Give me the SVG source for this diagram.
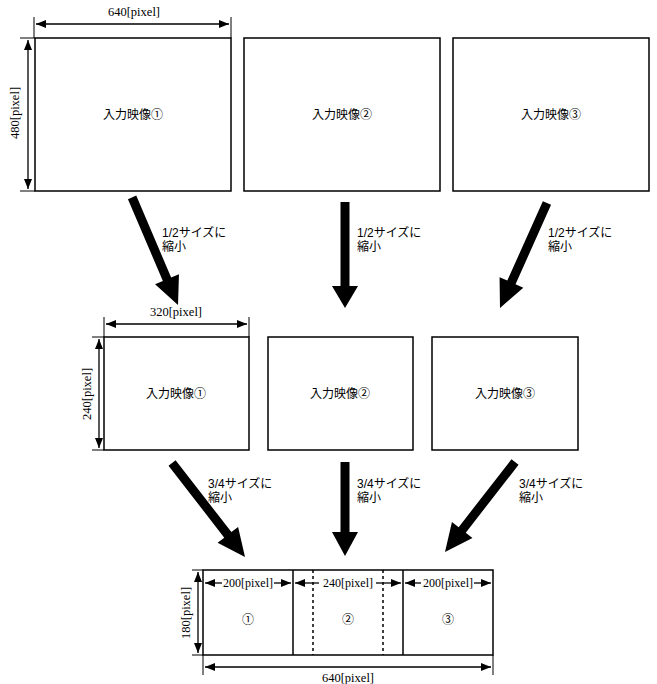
<svg xmlns="http://www.w3.org/2000/svg" width="657" height="684" viewBox="0 0 657 684">
<defs>
<style>
.box{fill:#fff;stroke:#000;stroke-width:1.5}
.dim{stroke:#000;stroke-width:1.3;fill:none}
.ext{stroke:#000;stroke-width:1;fill:none}
.dt{font-family:"Liberation Serif",serif;font-size:12.5px;fill:#000}
.dts{font-family:"Liberation Serif",serif;font-size:12px;fill:#000}
.jt{font-family:"Liberation Sans","Noto Sans CJK JP",sans-serif;font-size:12px;fill:#000}
.big{fill:#000}
</style>
<marker id="ah" viewBox="0 0 10 8" refX="10" refY="4" markerWidth="11" markerHeight="8" markerUnits="userSpaceOnUse" orient="auto-start-reverse">
<path d="M0,0 L10,4 L0,8 Z" fill="#000"/>
</marker>
</defs>
<rect width="657" height="684" fill="#fff"/>

<g id="top1"><rect class="box" x="35" y="38" width="196" height="153"/><text class="jt" x="133" y="119" text-anchor="middle">入力映像①</text></g>
<g id="top2"><rect class="box" x="244" y="38" width="196" height="153"/><text class="jt" x="342" y="119" text-anchor="middle">入力映像②</text></g>
<g id="top3"><rect class="box" x="453" y="38" width="196" height="153"/><text class="jt" x="551" y="119" text-anchor="middle">入力映像③</text></g>

<g id="mid1"><rect class="box" x="104" y="337" width="145" height="113"/><text class="jt" x="176" y="398" text-anchor="middle">入力映像①</text></g>
<g id="mid2"><rect class="box" x="268" y="337" width="145" height="113"/><text class="jt" x="340" y="398" text-anchor="middle">入力映像②</text></g>
<g id="mid3"><rect class="box" x="432" y="337" width="146" height="113"/><text class="jt" x="505" y="398" text-anchor="middle">入力映像③</text></g>

<g id="out">
<rect class="box" x="203" y="570" width="290" height="85"/>
<line class="ext" x1="293" y1="570" x2="293" y2="655" style="stroke-width:1.5"/>
<line class="ext" x1="403" y1="570" x2="403" y2="655" style="stroke-width:1.5"/>
<line class="ext" x1="313" y1="570" x2="313" y2="655" stroke-dasharray="3,3" style="stroke-width:1.5"/>
<line class="ext" x1="383" y1="570" x2="383" y2="655" stroke-dasharray="3,3" style="stroke-width:1.5"/>
<text class="jt" x="248" y="624" text-anchor="middle">①</text>
<text class="jt" x="348" y="624" text-anchor="middle">②</text>
<text class="jt" x="448" y="624" text-anchor="middle">③</text>
</g>

<g id="dimensions">
<line class="ext" x1="34" y1="17" x2="34" y2="38"/>
<line class="ext" x1="231" y1="17" x2="231" y2="38"/>
<line class="dim" x1="36" y1="24" x2="229" y2="24" marker-start="url(#ah)" marker-end="url(#ah)"/>
<text class="dt" x="134" y="16" text-anchor="middle">640[pixel]</text>
<line class="ext" x1="20" y1="38" x2="35" y2="38"/>
<line class="ext" x1="20" y1="191" x2="35" y2="191"/>
<line class="dim" x1="28" y1="40" x2="28" y2="189" marker-start="url(#ah)" marker-end="url(#ah)"/>
<text class="dt" transform="translate(19,113) rotate(-90)" text-anchor="middle">480[pixel]</text>

<line class="ext" x1="104" y1="317" x2="104" y2="337"/>
<line class="ext" x1="249" y1="317" x2="249" y2="337"/>
<line class="dim" x1="106" y1="324" x2="247" y2="324" marker-start="url(#ah)" marker-end="url(#ah)"/>
<text class="dt" x="176" y="316" text-anchor="middle">320[pixel]</text>
<line class="ext" x1="92" y1="337" x2="104" y2="337"/>
<line class="ext" x1="92" y1="450" x2="104" y2="450"/>
<line class="dim" x1="99" y1="339" x2="99" y2="448" marker-start="url(#ah)" marker-end="url(#ah)"/>
<text class="dt" transform="translate(91,394) rotate(-90)" text-anchor="middle">240[pixel]</text>

<line class="dim" x1="205" y1="583" x2="222" y2="583" marker-start="url(#ah)"/>
<line class="dim" x1="274" y1="583" x2="291" y2="583" marker-end="url(#ah)"/>
<text class="dts" x="248" y="587" text-anchor="middle">200[pixel]</text>
<line class="dim" x1="295" y1="583" x2="319" y2="583" marker-start="url(#ah)"/>
<line class="dim" x1="376" y1="583" x2="401" y2="583" marker-end="url(#ah)"/>
<text class="dts" x="348" y="587" text-anchor="middle">240[pixel]</text>
<line class="dim" x1="405" y1="583" x2="421" y2="583" marker-start="url(#ah)"/>
<line class="dim" x1="474" y1="583" x2="491" y2="583" marker-end="url(#ah)"/>
<text class="dts" x="448" y="587" text-anchor="middle">200[pixel]</text>

<line class="ext" x1="192" y1="570" x2="203" y2="570"/>
<line class="ext" x1="192" y1="655" x2="203" y2="655"/>
<line class="dim" x1="198" y1="572" x2="198" y2="653" marker-start="url(#ah)" marker-end="url(#ah)"/>
<text class="dt" transform="translate(190,613) rotate(-90)" text-anchor="middle">180[pixel]</text>

<line class="ext" x1="203" y1="655" x2="203" y2="675"/>
<line class="ext" x1="493" y1="655" x2="493" y2="675"/>
<line class="dim" x1="205" y1="667" x2="491" y2="667" marker-start="url(#ah)" marker-end="url(#ah)"/>
<text class="dt" x="348" y="682" text-anchor="middle">640[pixel]</text>
</g>

<g id="connectors">
<g transform="translate(178,305) rotate(66.9)"><path class="big" d="M0,0 L-28,-13 L-28,-4.5 L-117,-4.5 L-117,4.5 L-28,4.5 L-28,13 Z"/></g>
<g transform="translate(345,308) rotate(90)"><path class="big" d="M0,0 L-22,-13 L-22,-4.5 L-106,-4.5 L-106,4.5 L-22,4.5 L-22,13 Z"/></g>
<g transform="translate(500,308) rotate(114.1)"><path class="big" d="M0,0 L-28,-13 L-28,-4.5 L-115,-4.5 L-115,4.5 L-28,4.5 L-28,13 Z"/></g>
<g transform="translate(245,557) rotate(52.2)"><path class="big" d="M0,0 L-28,-13 L-28,-4.5 L-119,-4.5 L-119,4.5 L-28,4.5 L-28,13 Z"/></g>
<g transform="translate(345,556) rotate(90)"><path class="big" d="M0,0 L-24,-13 L-24,-4.5 L-94,-4.5 L-94,4.5 L-24,4.5 L-24,13 Z"/></g>
<g transform="translate(445,552) rotate(127.9)"><path class="big" d="M0,0 L-28,-13 L-28,-4.5 L-114,-4.5 L-114,4.5 L-28,4.5 L-28,13 Z"/></g>
</g>

<g id="labels">
<text class="jt" x="162" y="237">1/2サイズに</text><text class="jt" x="162" y="251">縮小</text>
<text class="jt" x="357" y="237">1/2サイズに</text><text class="jt" x="357" y="251">縮小</text>
<text class="jt" x="548" y="237">1/2サイズに</text><text class="jt" x="548" y="251">縮小</text>
<text class="jt" x="208" y="488">3/4サイズに</text><text class="jt" x="208" y="502">縮小</text>
<text class="jt" x="357" y="488">3/4サイズに</text><text class="jt" x="357" y="502">縮小</text>
<text class="jt" x="519" y="488">3/4サイズに</text><text class="jt" x="519" y="502">縮小</text>
</g>
</svg>
